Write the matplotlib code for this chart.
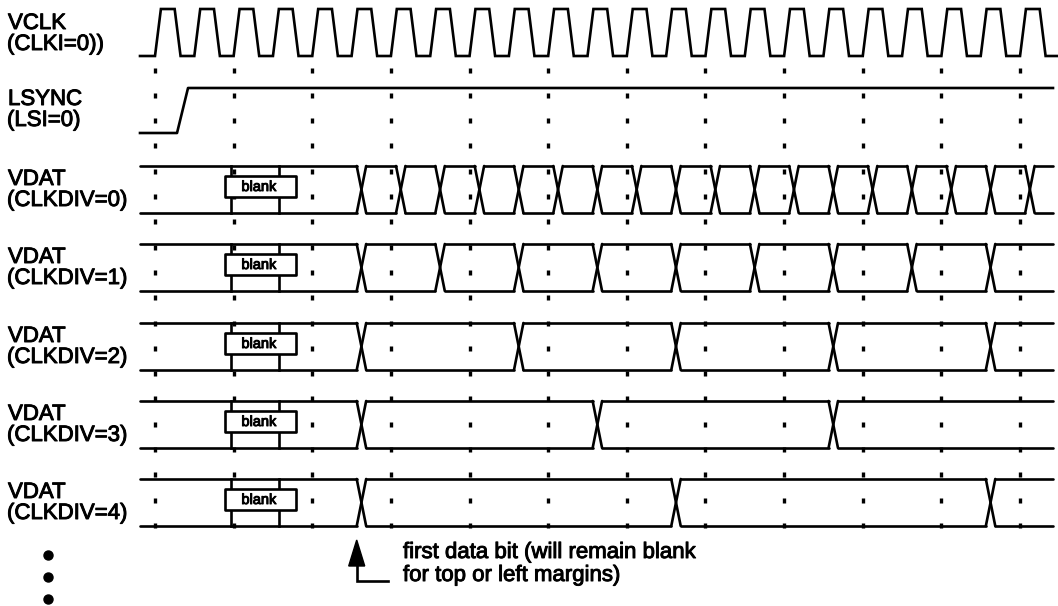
import matplotlib
matplotlib.use("Agg")
import matplotlib.pyplot as plt
import matplotlib.patheffects as pe
from matplotlib.patches import Rectangle, Polygon

plt.rcParams['font.family'] = ['Liberation Sans', 'DejaVu Sans']

# ---- data (time in VCLK periods, t=0 at first dotted marker) ----
clock_rises = [0, 1, 2, 3, 4, 5, 6, 7, 8, 9, 10, 11, 12, 13, 14, 15, 16, 17, 18, 19, 20, 21, 22]
lsync_rise = 0.56
grid_marks = [0, 2, 4, 6, 8, 10, 12, 14, 16, 18, 20, 22]

vdat_labels = ["(CLKDIV=0)", "(CLKDIV=1)", "(CLKDIV=2)", "(CLKDIV=3)", "(CLKDIV=4)"]
vdat_transitions = [
    [5.25, 6.25, 7.25, 8.25, 9.25, 10.25, 11.25, 12.25, 13.25, 14.25, 15.25,
     16.25, 17.25, 18.25, 19.25, 20.25, 21.25, 22.25],
    [5.25, 7.25, 9.25, 11.25, 13.25, 15.25, 17.25, 19.25, 21.25],
    [5.25, 9.25, 13.25, 17.25, 21.25],
    [5.25, 11.25, 17.25],
    [5.25, 13.25, 21.25],
]
blank_box = (1.78, 3.59)
blank_edges = [1.93, 3.15]
first_data_bit = 5.25

# ---- layout (x: pixels -> periods, y: pixels from top) ----
X0, P = 155, 39.32
W, H = 1058, 606
t_start = (140 - X0) / P
t_end = (1053 - X0) / P
lw = 1.9
col = "black"
heavy = [pe.withStroke(linewidth=0.7, foreground=col)]

fig = plt.figure(figsize=(W / 100, H / 100), dpi=100)
ax = fig.add_axes([0, 0, 1, 1])
ax.set_xlim(-X0 / P, (W - X0) / P)
ax.set_ylim(H, 0)
ax.axis("off")

def px(x):
    return (x - X0) / P

# dotted time markers
dot_ys = [70 + 25.3 * k for k in range(19)]
for g in grid_marks:
    for y in dot_ys:
        ax.plot([g, g], [y - 2.5, y + 2.5], color=col, lw=2.4, solid_capstyle="butt", zorder=1)

# VCLK
hi, lo = 9, 56
xs, ys = [t_start], [lo]
for r in clock_rises:
    xs += [r, r + 0.15, r + 0.5, r + 0.65]
    ys += [lo, hi, hi, lo]
xs.append(px(W))
ys.append(lo)
ax.plot(xs, ys, color=col, lw=lw, solid_joinstyle="miter", zorder=3)

# LSYNC
ax.plot([t_start, lsync_rise, lsync_rise + 0.28, t_end], [133, 133, 88, 88],
        color=col, lw=lw, zorder=3)

# VDAT buses
row_tops = [166, 244, 323, 401, 479]
bus_h = 47
w = 0.12
for top, trans in zip(row_tops, vdat_transitions):
    bot = top + bus_h
    starts = [t_start] + [c + w for c in trans]
    ends = [c - w for c in trans] + [t_end]
    for a, b in zip(starts, ends):
        ax.plot([a, b], [top, top], color=col, lw=lw, solid_capstyle="round", zorder=3)
        ax.plot([a, b], [bot, bot], color=col, lw=lw, solid_capstyle="round", zorder=3)
    for c in trans:
        ax.plot([c - w, c + w], [top, bot], color=col, lw=lw, solid_capstyle="round", zorder=3)
        ax.plot([c - w, c + w], [bot, top], color=col, lw=lw, solid_capstyle="round", zorder=3)
    for e in blank_edges:
        ax.plot([e, e], [top, bot], color=col, lw=lw, zorder=3)
    ax.add_patch(Rectangle((blank_box[0], top + 10), blank_box[1] - blank_box[0], 21,
                           facecolor="white", edgecolor=col, lw=lw, joinstyle="round", zorder=4))
    ax.text((blank_box[0] + blank_box[1]) / 2 - 0.04, top + 21, "blank", ha="center", va="center",
            fontsize=10.5, zorder=5, path_effects=heavy)

# signal labels
labels = [("VCLK", "(CLKI=0))", 29), ("LSYNC", "(LSI=0)", 105)]
labels += [("VDAT", lab, top + 19) for lab, top in zip(vdat_labels, row_tops)]
for l1, l2, base in labels:
    ax.text(px(8), base, l1, fontsize=16, va="baseline", ha="left", path_effects=heavy)
    ax.text(px(7), base + 21, l2, fontsize=16, va="baseline", ha="left", path_effects=heavy)

# continuation bullets
for y in [555, 577, 599]:
    ax.plot(px(48), y, "o", color=col, ms=6.5)

# first data bit arrow
hw = 8 / P
ax.add_patch(Polygon([[first_data_bit - 0.12, 540], [first_data_bit - 0.12 - hw, 566],
                      [first_data_bit - 0.12 + hw, 566]], closed=True, color=col, zorder=4))
ax.plot([first_data_bit - 0.12, first_data_bit - 0.12, px(388)], [560, 581, 581],
        color=col, lw=lw, solid_joinstyle="miter")
ax.text(px(403), 558, "first data bit (will remain blank", fontsize=16, va="baseline",
        path_effects=heavy)
ax.text(px(403), 581, "for top or left margins)", fontsize=16, va="baseline",
        path_effects=heavy)

fig.savefig("out.png", dpi=100, facecolor="white")
